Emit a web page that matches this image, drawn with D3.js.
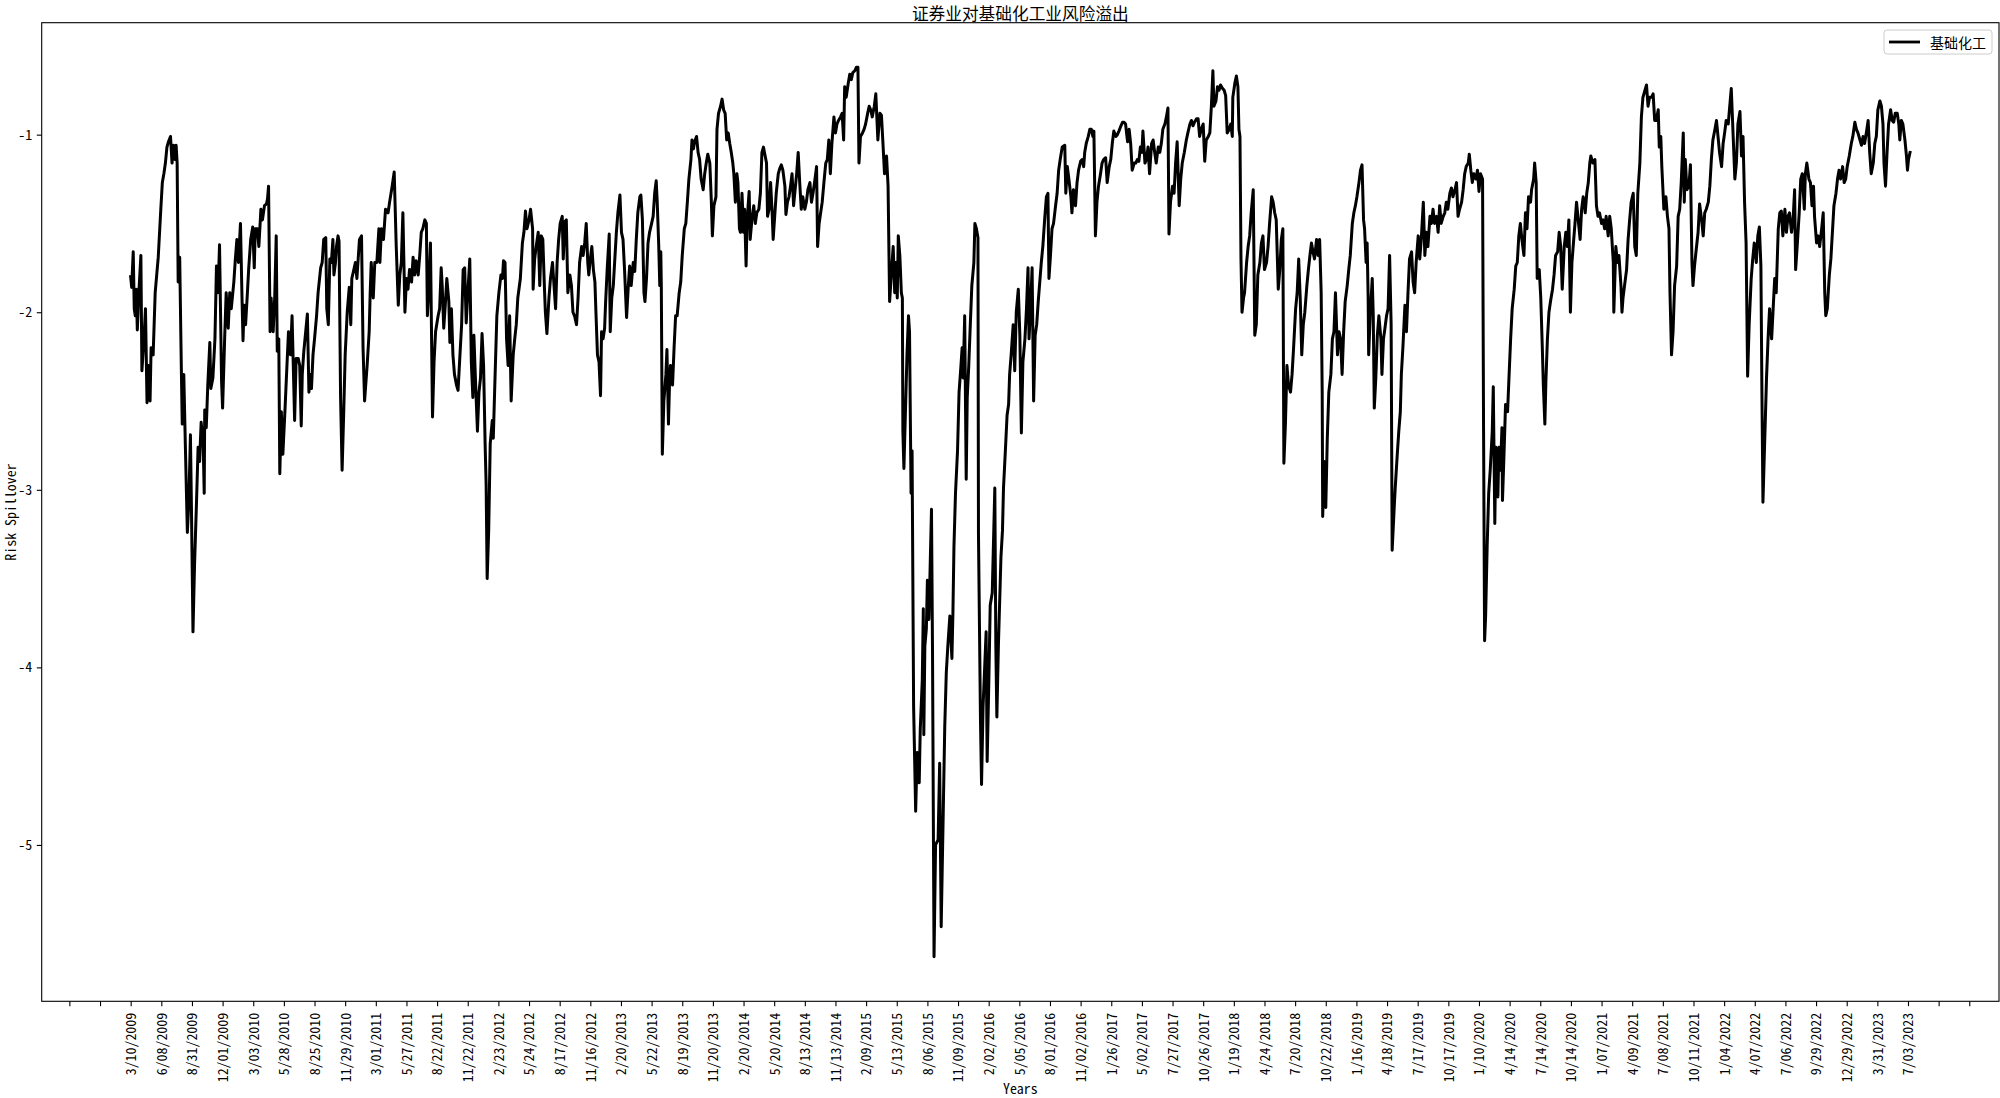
<!DOCTYPE html>
<html>
<head>
<meta charset="utf-8">
<script src="https://cdn.jsdelivr.net/npm/d3@7/dist/d3.min.js"></script>
<style>
  html, body { margin: 0; padding: 0; background: #fff; }
  svg { display: block; }
</style>
</head>
<body>
<div id="chart"></div>
<script>
// ---------------- DATA ----------------
const chartTitle = "证券业对基础化工业风险溢出";
const seriesName = "基础化工";
const xAxisTitle = "Years";
const yAxisTitle = "Risk Spillover";

// x tick labels: one every 60 trading days starting at trading day 0
const tickLabels = ["3/10/2009","6/08/2009","8/31/2009","12/01/2009","3/03/2010","5/28/2010","8/25/2010","11/29/2010",
"3/01/2011","5/27/2011","8/22/2011","11/22/2011","2/23/2012","5/24/2012","8/17/2012","11/16/2012","2/20/2013","5/22/2013",
"8/19/2013","11/20/2013","2/20/2014","5/20/2014","8/13/2014","11/13/2014","2/09/2015","5/13/2015","8/06/2015","11/09/2015",
"2/02/2016","5/05/2016","8/01/2016","11/02/2016","1/26/2017","5/02/2017","7/27/2017","10/26/2017","1/19/2018","4/24/2018",
"7/20/2018","10/22/2018","1/16/2019","4/18/2019","7/17/2019","10/17/2019","1/10/2020","4/14/2020","7/14/2020","10/14/2020",
"1/07/2021","4/09/2021","7/08/2021","10/11/2021","1/04/2022","4/07/2022","7/06/2022","9/29/2022","12/29/2022","3/31/2023","7/03/2023"];
const tickStep = 60;
const extraTicks = [-120, -60, 3540, 3600];
const yTicks = [-1, -2, -3, -4, -5];
const lastDay = 3484;

// [trading day index, risk spillover]
const spillover = [
[0,-1.80],[2,-1.86],[5,-1.66],[7,-1.98],[9,-2.02],[11,-1.87],[13,-2.10],[16,-1.89],[20,-1.68],[22,-2.33],[26,-2.15],[29,-1.98],
[32,-2.51],[35,-2.30],[38,-2.50],[40,-2.20],[44,-2.24],[48,-1.89],[54,-1.69],[59,-1.42],[62,-1.27],[65,-1.22],[68,-1.16],[71,-1.07],
[74,-1.04],[78,-1.01],[81,-1.16],[84,-1.06],[87,-1.14],[89,-1.06],[91,-1.16],[93,-1.83],[96,-1.69],[99,-2.28],[101,-2.63],[104,-2.35],
[107,-2.74],[111,-3.24],[114,-3.06],[117,-2.69],[119,-3.10],[122,-3.80],[125,-3.43],[129,-3.06],[132,-2.76],[135,-2.84],[138,-2.62],
[142,-2.74],[144,-3.02],[145,-2.55],[148,-2.65],[151,-2.41],[155,-2.17],[157,-2.43],[161,-2.37],[165,-2.15],[168,-1.74],[171,-1.89],
[174,-1.62],[178,-2.39],[180,-2.54],[184,-2.15],[187,-1.89],[191,-2.09],[194,-1.89],[197,-1.98],[202,-1.83],[205,-1.70],[208,-1.59],
[211,-1.72],[215,-1.50],[218,-1.92],[220,-2.16],[222,-1.96],[225,-2.07],[228,-1.92],[231,-1.76],[235,-1.59],[239,-1.52],[242,-1.75],
[244,-1.53],[248,-1.53],[251,-1.63],[255,-1.42],[258,-1.48],[262,-1.40],[266,-1.39],[268,-1.36],[270,-1.29],[273,-2.11],[275,-1.92],
[279,-2.11],[282,-1.92],[285,-1.57],[287,-2.22],[290,-2.15],[292,-2.91],[295,-2.56],[298,-2.80],[302,-2.56],[306,-2.30],[309,-2.11],
[313,-2.24],[316,-2.02],[319,-2.37],[321,-2.61],[324,-2.26],[328,-2.26],[331,-2.30],[334,-2.64],[336,-2.35],[339,-2.22],[342,-2.13],
[346,-2.01],[349,-2.45],[352,-2.35],[354,-2.43],[357,-2.24],[360,-2.15],[364,-2.02],[367,-1.89],[372,-1.75],[375,-1.72],[378,-1.59],
[382,-1.58],[384,-1.98],[387,-2.07],[390,-1.70],[393,-1.72],[396,-1.59],[398,-1.79],[401,-1.72],[403,-1.63],[406,-1.57],[408,-1.60],
[411,-2.48],[414,-2.89],[417,-2.58],[420,-2.24],[424,-2.00],[428,-1.86],[431,-2.07],[433,-1.81],[437,-1.76],[440,-1.72],[443,-1.81],
[445,-1.72],[448,-1.59],[452,-1.57],[455,-2.20],[458,-2.50],[463,-2.30],[467,-2.11],[469,-1.89],[471,-1.72],[475,-1.92],[478,-1.72],
[482,-1.72],[486,-1.53],
[488,-1.72],[491,-1.53],[495,-1.59],[499,-1.42],[504,-1.44],[507,-1.38],[512,-1.29],[516,-1.21],[520,-1.63],[524,-1.96],[527,-1.79],
[530,-1.72],[533,-1.44],[537,-2.00],[540,-1.81],[543,-1.87],[546,-1.76],[550,-1.83],[553,-1.69],[556,-1.79],[559,-1.71],[563,-1.79],
[566,-1.68],[569,-1.55],[572,-1.53],[576,-1.48],[579,-1.50],[581,-2.02],[584,-1.85],[587,-1.61],[591,-2.59],[594,-2.28],[597,-2.11],
[602,-2.02],[605,-1.98],[608,-1.75],[610,-1.85],[613,-2.09],[616,-1.96],[619,-1.81],[623,-1.94],[625,-2.17],[628,-1.98],[631,-2.24],
[634,-2.35],[638,-2.41],[641,-2.44],[644,-2.28],[648,-2.07],[651,-1.76],[654,-1.75],[657,-2.06],[661,-1.85],[664,-1.70],[667,-2.28],
[670,-2.48],[672,-2.13],[676,-2.45],[679,-2.67],[682,-2.45],[685,-2.37],[688,-2.12],[691,-2.30],[694,-2.74],[696,-2.97],[698,-3.50],
[701,-3.23],[704,-2.74],[708,-2.61],[710,-2.71],[713,-2.41],[717,-2.02],[721,-1.89],[725,-1.79],[728,-1.81],[730,-1.71],[733,-1.72],
[736,-2.15],[739,-2.30],[742,-2.02],[745,-2.50],[749,-2.24],[752,-2.15],[755,-2.07],[758,-1.92],[763,-1.81],[767,-1.61],[770,-1.55],
[773,-1.43],[776,-1.53],[780,-1.48],[783,-1.42],[787,-1.53],[788,-1.87],[791,-1.70],[794,-1.63],[798,-1.55],[801,-1.85],[804,-1.57],
[807,-1.59],[810,-1.85],[812,-2.00],[815,-2.12],[819,-1.92],[822,-1.81],[826,-1.72],[828,-1.81],[832,-1.98],[835,-1.72],[838,-1.59],
[841,-1.50],[845,-1.46],[847,-1.70],[850,-1.49],[853,-1.48],[856,-1.89],[860,-1.79],[863,-1.85],[866,-2.00],[869,-2.02],[873,-2.07],
[876,-1.92],[879,-1.72],[883,-1.63],[886,-1.68],[889,-1.61],[892,-1.50],[895,-1.72],[897,-1.79],[900,-1.70],[903,-1.63],[906,-1.76],
[909,-1.83],[911,-2.00],[914,-2.24],[917,-2.28],[920,-2.47],[922,-2.11],[925,-2.15],[928,-2.09],[930,-1.94],[933,-1.76],[937,-1.56],
[939,-2.11],[942,-1.92],[945,-1.85],[948,-1.70],[951,-1.55],[954,-1.44],[958,-1.34],[961,-1.55],[964,-1.59],[967,-1.76],[971,-2.03],
[974,-1.87],[977,-1.74],[980,-1.85],[984,-1.72],
[987,-1.77],[990,-1.59],[993,-1.44],[997,-1.35],[999,-1.34],[1002,-1.48],[1005,-1.89],[1007,-1.94],[1010,-1.81],[1013,-1.61],
[1016,-1.55],[1020,-1.50],[1023,-1.46],[1026,-1.33],[1029,-1.26],[1031,-1.38],[1034,-1.63],[1036,-1.85],[1038,-1.66],[1039,-1.85],
[1041,-2.80],[1044,-2.50],[1048,-2.35],[1050,-2.21],[1053,-2.63],[1055,-2.41],[1057,-2.30],[1061,-2.41],[1064,-2.20],[1067,-2.02],
[1070,-2.02],[1074,-1.89],[1077,-1.83],[1080,-1.68],[1084,-1.53],[1087,-1.50],[1090,-1.38],[1093,-1.25],[1097,-1.14],[1099,-1.03],
[1102,-1.08],[1104,-1.04],[1108,-1.01],[1111,-1.10],[1114,-1.14],[1117,-1.25],[1121,-1.31],[1124,-1.22],[1127,-1.16],[1130,-1.11],
[1134,-1.16],[1137,-1.38],[1139,-1.57],[1142,-1.40],[1146,-1.35],[1148,-0.97],[1151,-0.88],[1155,-0.84],[1158,-0.80],[1161,-0.86],
[1164,-0.88],[1167,-1.03],[1170,-0.99],[1173,-1.05],[1176,-1.10],[1179,-1.16],[1181,-1.22],[1184,-1.38],[1187,-1.22],[1189,-1.27],
[1192,-1.53],[1194,-1.55],[1197,-1.33],[1200,-1.55],[1202,-1.42],[1205,-1.74],[1207,-1.48],[1211,-1.32],[1213,-1.59],[1217,-1.46],
[1220,-1.40],[1223,-1.50],[1226,-1.44],[1230,-1.42],[1233,-1.33],[1236,-1.10],[1239,-1.07],[1241,-1.10],[1245,-1.16],[1247,-1.46],
[1250,-1.42],[1253,-1.27],[1256,-1.44],[1258,-1.59],[1261,-1.46],[1264,-1.33],[1268,-1.22],[1271,-1.19],[1274,-1.17],[1277,-1.20],
[1281,-1.29],[1283,-1.45],[1286,-1.38],[1289,-1.35],[1292,-1.29],[1295,-1.22],[1298,-1.40],[1301,-1.31],[1304,-1.22],[1307,-1.10],
[1310,-1.27],[1313,-1.42],[1316,-1.35],[1320,-1.42],[1323,-1.38],[1326,-1.31],[1330,-1.27],[1333,-1.38],[1336,-1.33],[1339,-1.27],
[1343,-1.18],[1345,-1.63],[1348,-1.50],[1351,-1.44],[1354,-1.38],[1358,-1.25],[1361,-1.16],[1364,-1.14],[1367,-1.03],[1370,-1.22],
[1373,-1.05],[1377,-0.90],[1380,-0.99],[1383,-0.94],[1386,-0.92],[1390,-0.90],[1393,-0.88],[1396,-1.03],[1398,-0.73],[1401,-0.79],
[1405,-0.71],[1408,-0.66],[1411,-0.69],[1414,-0.65],[1418,-0.64],[1421,-0.62],[1424,-0.62],[1426,-1.16],[1429,-1.01],[1433,-0.99],
[1436,-0.97],[1439,-0.94],[1443,-0.88],[1446,-0.84],[1449,-0.86],[1452,-0.90],[1456,-0.84],[1459,-0.77],[1461,-0.90],[1463,-1.03],
[1467,-0.88],[1470,-0.89],[1473,-1.05],[1476,-1.22],[1480,-1.12],[1483,-1.29],[1486,-1.94],
[1490,-1.76],[1493,-1.63],[1496,-1.89],[1498,-1.72],[1501,-1.92],[1503,-1.57],[1506,-1.68],[1509,-1.89],[1511,-1.92],[1512,-2.67],
[1514,-2.88],[1517,-2.56],[1520,-2.24],[1523,-2.02],[1525,-2.11],[1528,-3.02],[1530,-2.78],[1533,-4.22],[1537,-4.81],[1540,-4.48],
[1544,-4.65],[1546,-4.35],[1550,-4.07],[1552,-3.67],[1553,-4.38],[1555,-3.88],[1558,-3.78],[1560,-3.51],[1563,-3.73],[1568,-3.11],
[1570,-3.90],[1573,-5.63],[1576,-5.00],[1581,-4.97],[1584,-4.54],[1587,-5.46],[1591,-4.82],[1594,-4.33],[1597,-4.03],[1600,-3.88],
[1604,-3.71],[1608,-3.95],[1610,-3.69],[1612,-3.32],[1615,-3.02],[1619,-2.78],[1622,-2.45],[1625,-2.33],[1628,-2.20],[1630,-2.37],
[1633,-2.02],[1636,-2.94],[1638,-2.48],[1641,-2.30],[1644,-2.07],[1647,-1.85],[1651,-1.72],[1653,-1.50],[1656,-1.53],[1659,-1.58],
[1660,-3.25],[1664,-4.31],[1666,-4.66],[1669,-4.22],[1672,-4.01],[1675,-3.80],[1677,-4.53],[1680,-4.12],[1683,-3.65],[1687,-3.58],
[1692,-2.99],[1694,-3.88],[1696,-4.28],[1699,-3.88],[1704,-3.38],[1707,-3.23],[1709,-2.99],[1713,-2.76],[1716,-2.58],[1719,-2.52],
[1721,-2.35],[1724,-2.24],[1728,-2.07],[1731,-2.33],[1734,-2.00],[1738,-1.87],[1741,-2.13],[1744,-2.68],[1747,-2.28],[1751,-2.15],
[1754,-1.98],[1757,-1.75],[1759,-2.15],[1762,-1.98],[1765,-1.75],[1768,-2.50],[1771,-2.13],[1774,-2.07],[1777,-1.94],[1780,-1.83],
[1783,-1.72],[1786,-1.63],[1790,-1.46],[1793,-1.35],[1796,-1.33],[1798,-1.81],[1801,-1.68],[1804,-1.53],[1807,-1.50],[1811,-1.40],
[1814,-1.33],[1817,-1.20],[1820,-1.14],[1824,-1.07],[1829,-1.06],[1831,-1.33],[1834,-1.18],[1837,-1.25],[1841,-1.35],[1843,-1.44],
[1846,-1.31],[1850,-1.40],[1853,-1.27],[1856,-1.20],[1860,-1.15],[1863,-1.14],[1866,-1.18],[1868,-1.10],[1871,-1.05],[1875,-1.01],
[1878,-0.97],[1881,-0.97],[1884,-1.01],[1886,-0.98],[1889,-1.57],[1892,-1.38],[1895,-1.29],[1899,-1.22],[1902,-1.16],[1905,-1.14],
[1909,-1.13],[1912,-1.27],[1916,-1.18],[1919,-1.14],[1922,-1.05],[1925,-0.98],[1929,-1.01],[1932,-1.00],[1935,-0.98],[1939,-0.95],
[1942,-0.93],[1945,-0.93],[1948,-0.94],[1952,-1.04],[1955,-0.97],[1958,-1.05],[1961,-1.20],[1965,-1.16],[1968,-1.16],[1971,-1.14],
[1974,-1.15],[1977,-1.07],[1980,-1.10],[1982,-0.98],[1986,-1.16],
[1989,-1.14],[1992,-1.07],[1995,-1.22],[1999,-1.05],[2002,-1.03],[2005,-1.10],[2008,-1.16],[2012,-1.07],[2015,-1.10],[2018,-1.05],
[2021,-0.97],[2025,-0.94],[2028,-0.90],[2031,-0.85],[2033,-1.56],[2036,-1.38],[2040,-1.29],[2043,-1.33],[2046,-1.16],[2049,-1.04],
[2053,-1.40],[2056,-1.25],[2059,-1.16],[2063,-1.10],[2067,-1.03],[2070,-0.99],[2074,-0.94],[2077,-0.92],[2080,-0.95],[2083,-0.93],
[2087,-0.91],[2090,-0.91],[2093,-1.01],[2096,-0.97],[2100,-0.94],[2103,-1.15],[2106,-1.03],[2110,-1.01],[2113,-0.99],[2116,-0.84],
[2119,-0.64],[2121,-0.84],[2125,-0.81],[2128,-0.73],[2131,-0.75],[2134,-0.72],[2138,-0.74],[2141,-0.75],[2144,-0.78],[2147,-0.99],
[2151,-0.97],[2154,-0.94],[2157,-1.01],[2158,-0.79],[2162,-0.71],[2165,-0.67],[2168,-0.73],[2170,-0.97],[2172,-1.01],[2174,-1.70],
[2176,-2.00],[2179,-1.92],[2181,-1.89],[2185,-1.72],[2188,-1.63],[2191,-1.57],[2194,-1.44],[2198,-1.31],[2201,-2.13],[2204,-2.07],
[2207,-1.79],[2211,-1.72],[2214,-1.61],[2217,-1.57],[2220,-1.76],[2224,-1.72],[2227,-1.63],[2230,-1.50],[2234,-1.35],[2237,-1.38],
[2240,-1.44],[2243,-1.48],[2247,-1.87],[2250,-1.76],[2253,-1.59],[2256,-1.53],[2258,-2.85],[2261,-2.63],[2264,-2.30],[2267,-2.41],
[2271,-2.45],[2274,-2.35],[2277,-2.20],[2281,-1.98],[2284,-1.89],[2287,-1.70],[2290,-1.92],[2293,-2.24],[2296,-2.07],[2299,-2.00],
[2303,-1.85],[2306,-1.76],[2309,-1.68],[2312,-1.61],[2315,-1.66],[2318,-1.70],[2322,-1.59],[2325,-1.68],[2328,-1.59],[2331,-1.89],
[2333,-2.45],[2334,-3.15],[2337,-2.84],[2340,-3.10],[2343,-2.71],[2346,-2.45],[2350,-2.35],[2353,-2.15],[2356,-2.11],[2359,-1.89],
[2363,-2.24],[2366,-2.11],[2369,-2.15],[2372,-2.35],[2375,-2.11],[2378,-1.94],[2382,-1.85],[2385,-1.76],[2388,-1.68],[2392,-1.50],
[2395,-1.44],[2398,-1.40],[2401,-1.35],[2405,-1.27],[2408,-1.20],[2411,-1.17],[2414,-1.48],[2416,-1.53],[2419,-1.72],[2421,-1.61],
[2423,-1.92],[2424,-2.24],[2427,-2.02],[2431,-1.81],[2433,-2.02],[2435,-2.54],[2438,-2.37],[2441,-2.13],[2444,-2.02],[2448,-2.15],
[2450,-2.35],[2453,-2.15],[2455,-2.11],[2459,-2.02],[2462,-1.98],[2465,-1.68],[2468,-2.07],[2470,-3.34],[2474,-3.10],[2476,-2.99],
[2480,-2.80],[2483,-2.67],[2486,-2.56],
[2488,-2.35],[2491,-2.20],[2495,-1.96],[2498,-2.11],[2501,-1.89],[2504,-1.70],[2508,-1.66],[2511,-1.83],[2514,-1.89],[2517,-1.72],
[2521,-1.57],[2524,-1.70],[2527,-1.59],[2531,-1.38],[2534,-1.68],[2537,-1.55],[2540,-1.63],[2544,-1.46],[2547,-1.50],[2550,-1.42],
[2553,-1.50],[2557,-1.46],[2560,-1.55],[2563,-1.40],[2566,-1.50],[2570,-1.46],[2573,-1.44],[2576,-1.38],[2579,-1.42],[2583,-1.33],
[2586,-1.30],[2589,-1.35],[2593,-1.31],[2596,-1.27],[2599,-1.46],[2602,-1.42],[2606,-1.38],[2609,-1.31],[2612,-1.22],[2615,-1.18],
[2619,-1.16],[2621,-1.11],[2624,-1.20],[2627,-1.27],[2630,-1.22],[2634,-1.25],[2637,-1.20],[2640,-1.32],[2643,-1.22],[2647,-1.25],
[2649,-2.67],[2651,-3.85],[2653,-3.71],[2656,-3.32],[2659,-3.02],[2662,-2.89],[2666,-2.67],[2668,-2.42],[2671,-3.19],[2673,-2.76],
[2677,-3.04],[2679,-2.76],[2682,-2.89],[2685,-2.65],[2686,-3.06],[2689,-2.80],[2692,-2.52],[2696,-2.56],[2699,-2.35],[2702,-2.15],
[2705,-1.98],[2709,-1.87],[2712,-1.74],[2715,-1.72],[2718,-1.57],[2721,-1.50],[2724,-1.59],[2728,-1.68],[2731,-1.44],[2734,-1.53],
[2737,-1.35],[2741,-1.38],[2743,-1.31],[2747,-1.25],[2749,-1.16],[2752,-1.27],[2754,-1.81],[2758,-1.76],[2761,-1.92],[2764,-2.20],
[2766,-2.41],[2769,-2.63],[2771,-2.39],[2774,-2.15],[2777,-2.00],[2780,-1.94],[2784,-1.87],[2787,-1.79],[2790,-1.68],[2794,-1.66],
[2797,-1.55],[2800,-1.63],[2803,-1.87],[2807,-1.63],[2810,-1.55],[2813,-1.63],[2816,-1.48],[2819,-2.00],[2822,-1.72],[2825,-1.61],
[2828,-1.50],[2831,-1.38],[2835,-1.50],[2838,-1.59],[2841,-1.42],[2844,-1.35],[2848,-1.44],[2851,-1.33],[2854,-1.27],[2857,-1.16],
[2859,-1.12],[2863,-1.16],[2867,-1.14],[2870,-1.40],[2873,-1.46],[2876,-1.44],[2880,-1.50],[2883,-1.48],[2886,-1.53],[2889,-1.46],
[2893,-1.57],[2896,-1.46],[2899,-1.53],[2903,-1.72],[2904,-2.00],[2908,-1.63],[2911,-1.72],[2914,-1.68],[2918,-1.85],[2920,-2.00],
[2922,-1.92],[2925,-1.85],[2929,-1.76],[2932,-1.59],[2935,-1.48],[2938,-1.38],[2942,-1.33],[2945,-1.63],[2948,-1.68],[2951,-1.33],
[2955,-1.16],[2958,-0.90],[2961,-0.79],[2965,-0.75],[2968,-0.72],[2971,-0.84],[2974,-0.79],[2978,-0.79],[2981,-0.77],[2984,-0.92],
[2987,-0.92],[2991,-0.86],[2993,-1.07],[2996,-1.01],[2998,-1.18],[3002,-1.42],[3006,-1.35],[3009,-1.46],[3012,-1.53],[3014,-1.89],
[3017,-2.24],[3020,-2.11],[3023,-1.85],[3027,-1.74],[3030,-1.46],[3033,-1.42],[3036,-1.27],[3040,-0.99],[3042,-1.38],[3044,-1.14],
[3047,-1.31],[3051,-1.29],[3054,-1.17],[3057,-1.72],[3059,-1.85],[3062,-1.74],[3066,-1.63],[3069,-1.55],[3072,-1.39],[3076,-1.48],
[3079,-1.57],[3082,-1.44],[3085,-1.42],[3089,-1.38],[3092,-1.29],[3095,-1.14],[3098,-1.03],[3102,-0.97],[3105,-0.92],[3108,-1.01],
[3111,-1.10],[3115,-1.18],[3118,-1.05],[3121,-0.99],[3124,-0.92],[3128,-0.94],[3131,-0.84],[3134,-0.74],[3138,-1.03],[3141,-1.25],
[3144,-1.16],[3147,-0.94],[3151,-0.87],[3154,-1.12],[3157,-1.01],[3160,-1.38],[3163,-1.61],[3166,-2.36],[3169,-2.07],[3173,-1.81],
[3176,-1.70],[3179,-1.61],[3183,-1.72],[3186,-1.57],[3189,-1.52],[3192,-1.74],[3194,-2.45],[3196,-3.07],[3200,-2.67],[3203,-2.37],
[3206,-2.15],[3209,-1.98],[3213,-2.15],[3216,-1.98],[3219,-1.81],[3222,-1.89],[3226,-1.53],[3229,-1.44],[3232,-1.43],[3235,-1.57],
[3239,-1.42],[3242,-1.55],[3245,-1.46],[3248,-1.44],[3252,-1.55],[3255,-1.48],[3258,-1.31],[3260,-1.76],[3263,-1.63],[3267,-1.44],
[3270,-1.25],[3273,-1.22],[3277,-1.42],[3279,-1.22],[3282,-1.16],[3286,-1.25],[3289,-1.27],[3292,-1.40],[3295,-1.29],[3297,-1.46],
[3301,-1.61],[3304,-1.57],[3307,-1.63],[3311,-1.53],[3314,-1.44],[3317,-1.89],[3319,-2.02],[3322,-1.98],[3326,-1.79],[3329,-1.70],
[3332,-1.55],[3335,-1.40],[3339,-1.33],[3342,-1.25],[3345,-1.20],[3348,-1.25],[3352,-1.18],[3355,-1.27],[3358,-1.25],[3361,-1.18],
[3365,-1.12],[3369,-1.05],[3372,-1.01],[3376,-0.93],[3379,-0.97],[3382,-0.99],[3386,-1.03],[3389,-1.06],[3392,-1.01],[3395,-1.05],
[3399,-0.98],[3402,-0.92],[3405,-1.10],[3408,-1.22],[3412,-1.16],[3415,-1.05],[3418,-1.01],[3421,-0.86],[3425,-0.81],[3428,-0.84],
[3431,-0.94],[3433,-1.16],[3436,-1.29],[3439,-1.10],[3442,-0.94],[3446,-0.86],[3449,-0.92],[3452,-0.93],[3455,-0.88],[3459,-0.88],
[3462,-0.94],[3464,-1.03],[3467,-0.92],[3470,-0.94],[3474,-1.03],[3477,-1.12],[3479,-1.20],[3481,-1.14],[3484,-1.10]
];

// ---------------- LAYOUT ----------------
const W = 2000, H = 1098;
const plot = { left: 41.7, right: 1999, top: 22.7, bottom: 1001.3 };
const tickFont = '"Noto Sans Mono CJK SC", "Noto Sans CJK SC", "DejaVu Sans Mono", monospace';
const cjkFont = '"Noto Sans CJK SC", "Noto Sans CJK JP", sans-serif';

const svg = d3.select("#chart").append("svg")
  .attr("width", W).attr("height", H)
  .style("background", "#fff");

const margin = 0.05 * lastDay;
const x = d3.scaleLinear().domain([-margin, lastDay + margin]).range([plot.left, plot.right]);
const yMin = d3.min(spillover, d => d[1]), yMax = d3.max(spillover, d => d[1]);
const yPad = 0.05 * (yMax - yMin);
const y = d3.scaleLinear().domain([yMin - yPad, yMax + yPad]).range([plot.bottom, plot.top]);

// line
const data = spillover.slice().sort((a, b) => a[0] - b[0]);
const line = d3.line().x(d => x(d[0])).y(d => y(d[1]));
svg.append("defs").append("clipPath").attr("id", "clip")
  .append("rect").attr("x", plot.left).attr("y", plot.top)
  .attr("width", plot.right - plot.left).attr("height", plot.bottom - plot.top);
svg.append("path").datum(data)
  .attr("d", line)
  .attr("fill", "none").attr("stroke", "#000")
  .attr("stroke-width", 3)
  .attr("stroke-linejoin", "round").attr("stroke-linecap", "square")
  .attr("clip-path", "url(#clip)");

// x axis
const labelTicks = tickLabels.map((_, i) => i * tickStep);
const allTicks = labelTicks.concat(extraTicks).sort((a, b) => a - b);
const labelMap = new Map(labelTicks.map((t, i) => [t, tickLabels[i]]));
const xAxis = d3.axisBottom(x).tickValues(allTicks).tickSize(4.9).tickSizeOuter(0)
  .tickFormat(t => labelMap.get(t) || "");
const gx = svg.append("g").attr("transform", `translate(0,${plot.bottom})`).call(xAxis);
gx.select(".domain").remove();
gx.selectAll(".tick line").attr("stroke", "#000").attr("stroke-width", 1.1);
gx.selectAll(".tick text")
  .attr("font-family", tickFont).attr("font-size", 13.9).attr("fill", "#000")
  .attr("text-anchor", "end")
  .attr("transform", "rotate(-90)")
  .attr("x", -11.5).attr("y", 0).attr("dy", "0.35em");

// y axis
const yAxis = d3.axisLeft(y).tickValues(yTicks).tickSize(4.9).tickSizeOuter(0)
  .tickFormat(d => String(d));
const gy = svg.append("g").attr("transform", `translate(${plot.left},0)`).call(yAxis);
gy.select(".domain").remove();
gy.selectAll(".tick line").attr("stroke", "#000").attr("stroke-width", 1.1);
gy.selectAll(".tick text")
  .attr("font-family", tickFont).attr("font-size", 13.9).attr("fill", "#000")
  .attr("x", -9.5);

// frame
svg.append("rect")
  .attr("x", plot.left).attr("y", plot.top)
  .attr("width", plot.right - plot.left).attr("height", plot.bottom - plot.top)
  .attr("fill", "none").attr("stroke", "#000").attr("stroke-width", 1.1);

// title & axis titles
svg.append("text").text(chartTitle)
  .attr("x", (plot.left + plot.right) / 2).attr("y", 19.5)
  .attr("text-anchor", "middle").attr("font-family", cjkFont).attr("font-size", 16.7).attr("fill", "#000");
svg.append("text").text(xAxisTitle)
  .attr("x", (plot.left + plot.right) / 2).attr("y", 1093.5)
  .attr("text-anchor", "middle").attr("font-family", tickFont).attr("font-size", 13.9).attr("fill", "#000");
svg.append("text").text(yAxisTitle)
  .attr("transform", `translate(11.5,${(plot.top + plot.bottom) / 2}) rotate(-90)`)
  .attr("dy", "0.35em")
  .attr("text-anchor", "middle").attr("font-family", tickFont).attr("font-size", 13.9).attr("fill", "#000");

// legend
const lg = svg.append("g");
lg.append("rect").attr("x", 1884).attr("y", 30).attr("width", 108).attr("height", 24).attr("rx", 3)
  .attr("fill", "#fff").attr("fill-opacity", 0.8).attr("stroke", "#cccccc").attr("stroke-width", 1);
lg.append("line").attr("x1", 1889).attr("x2", 1920).attr("y1", 42).attr("y2", 42)
  .attr("stroke", "#000").attr("stroke-width", 2.8);
lg.append("text").text(seriesName).attr("x", 1930).attr("y", 47.5)
  .attr("font-family", cjkFont).attr("font-size", 14).attr("fill", "#000");
</script>
</body>
</html>
